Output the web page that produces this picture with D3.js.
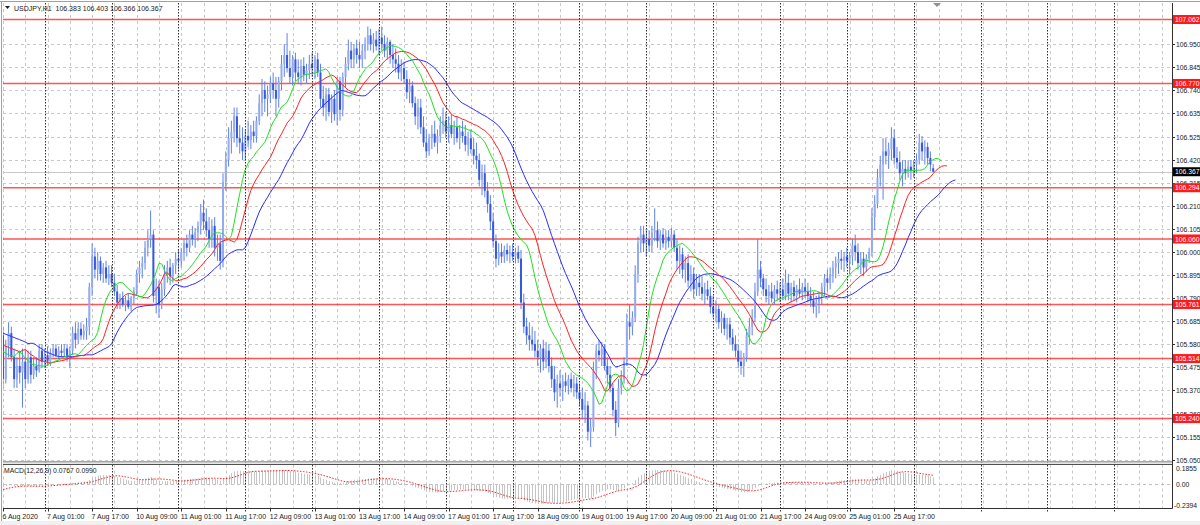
<!DOCTYPE html>
<html><head><meta charset="utf-8">
<script src="https://cdn.jsdelivr.net/npm/d3@7"></script>
<style>html,body{margin:0;padding:0;background:#fff}svg{display:block}</style>
</head><body>
<svg id="c" width="1200" height="525"></svg>
<script>
// ---------------- DATA ----------------
const chartTitle = "USDJPY,H1  106.383 106.403 106.366 106.367";
const macdTitle = "MACD(12,26,9) 0.0767 0.0990";

// H1 bars, 6 Aug 2020 09:00 -> 26 Aug 2020 07:00
const barOpen = [
 105.62,105.42,105.57,105.63,105.52,105.42,105.48,105.45,105.50,105.42,105.52,105.44,105.48,105.46,105.55, // 6 Aug
 105.50,105.53,105.50,105.54,105.56,105.53,105.55,105.54,105.56,105.52,105.55,105.63,105.60,105.65,105.62,105.64,105.66,105.84,105.98,105.92,105.96,105.90,105.93,105.88, // 7 Aug
 105.90,105.86,105.82,105.77,105.79,105.76,105.78,105.75,105.79,105.82,105.90,105.93,105.95,106.02,106.06,106.08,105.80,105.84,105.76,105.83,105.90,105.93,105.89,105.94, // 10 Aug
 105.97,105.96,106.00,106.04,106.02,106.08,106.06,106.09,106.12,106.18,106.14,106.10,106.06,106.12,106.02,106.04,105.96,106.32,106.42,106.52,106.55,106.62,106.52,106.50, // 11 Aug
 106.46,106.53,106.51,106.55,106.53,106.60,106.68,106.74,106.70,106.72,106.77,106.74,106.70,106.78,106.86,106.90,106.84,106.80,106.88,106.82,106.80,106.85,106.81,106.83, // 12 Aug
 106.86,106.84,106.88,106.82,106.70,106.66,106.72,106.64,106.70,106.63,106.78,106.65,106.80,106.86,106.92,106.88,106.93,106.90,106.88,106.92,106.95,106.99,106.95,106.97, // 13 Aug
 106.94,106.98,106.95,106.92,106.96,106.90,106.88,106.86,106.82,106.84,106.79,106.73,106.76,106.68,106.62,106.66,106.57,106.50,106.46,106.52,106.54,106.50,106.53,106.58, // 14 Aug
 106.60,106.55,106.58,106.54,106.57,106.52,106.55,106.53,106.49,106.52,106.47,106.44,106.42,106.33,106.36,106.28,106.22,106.14,106.05,105.97,106.00,105.98,106.01,105.99, // 17 Aug
 106.00,105.98,106.00,105.97,105.77,105.66,105.62,105.60,105.58,105.55,105.52,105.56,105.50,105.55,105.48,105.42,105.36,105.40,105.38,105.41,105.39,105.42,105.38,105.40, // 18 Aug
 105.36,105.33,105.28,105.30,105.18,105.20,105.46,105.55,105.53,105.56,105.48,105.44,105.38,105.28,105.22,105.38,105.42,105.50,105.68,105.66,105.70,105.90,106.04,106.08, // 19 Aug
 106.04,106.06,106.03,106.09,106.10,106.05,106.08,106.04,106.07,106.05,106.08,106.02,105.96,105.99,105.92,105.95,105.87,105.90,105.83,105.86,105.84,105.81,105.83,105.80, // 20 Aug
 105.75,105.72,105.74,105.68,105.70,105.65,105.67,105.61,105.58,105.55,105.50,105.48,105.52,105.62,105.66,105.70,105.82,105.92,105.88,105.83,105.80,105.82,105.79,105.83, // 21 Aug
 105.81,105.83,105.80,105.86,105.81,105.84,105.80,105.83,105.81,105.84,105.82,105.80,105.78,105.75,105.77,105.80,105.84,105.88,105.86,105.90,105.93,105.95,105.97,105.96, // 24 Aug
 105.98,105.96,105.98,106.03,106.00,105.95,105.97,105.93,105.97,106.00,106.16,106.22,106.34,106.40,106.46,106.44,106.47,106.52,106.43,106.41,106.36,106.38,106.36,106.39, // 25 Aug
 106.37,106.40,106.42,106.50,106.46,106.48,106.43,106.383 // 26 Aug
];
const barHigh = [
 105.66,105.60,105.68,105.66,105.56,105.52,105.55,105.56,105.56,105.55,105.55,105.52,105.52,105.58,105.58,
 105.56,105.57,105.56,105.58,105.58,105.57,105.58,105.58,105.58,105.57,105.66,105.68,105.68,105.68,105.67,105.70,105.86,106.04,106.02,106.00,105.98,105.95,105.96,105.94,
 105.94,105.90,105.85,105.81,105.82,105.80,105.81,105.80,105.84,105.92,105.96,105.98,106.05,106.10,106.19,106.10,105.88,105.87,105.86,105.94,105.96,105.97,105.95,106.00,
 106.01,106.02,106.06,106.08,106.10,106.12,106.11,106.14,106.22,106.24,106.20,106.16,106.15,106.16,106.08,106.08,106.36,106.46,106.57,106.60,106.66,106.66,106.58,106.57,
 106.56,106.60,106.58,106.60,106.62,106.72,106.79,106.78,106.76,106.80,106.82,106.80,106.80,106.90,106.95,107.00,106.92,106.90,106.91,106.88,106.88,106.89,106.86,106.90,
 106.91,106.90,106.91,106.86,106.76,106.75,106.75,106.72,106.74,106.80,106.80,106.82,106.89,106.97,106.96,106.95,106.97,106.96,106.95,106.98,107.03,107.02,107.00,107.01,
 107.02,107.03,106.99,106.98,106.97,106.95,106.93,106.90,106.88,106.87,106.83,106.79,106.78,106.71,106.70,106.70,106.62,106.56,106.54,106.58,106.60,106.56,106.62,106.66,
 106.64,106.62,106.63,106.60,106.62,106.58,106.60,106.58,106.55,106.56,106.52,106.50,106.45,106.40,106.40,106.32,106.26,106.18,106.08,106.04,106.04,106.03,106.04,106.03,
 106.04,106.02,106.03,106.01,105.81,105.70,105.68,105.66,105.64,105.60,105.58,105.60,105.59,105.58,105.52,105.48,105.44,105.46,105.44,105.45,105.44,105.45,105.44,105.43,
 105.40,105.38,105.36,105.32,105.24,105.50,105.58,105.60,105.59,105.58,105.52,105.48,105.40,105.32,105.42,105.46,105.52,105.72,105.76,105.73,105.94,106.07,106.12,106.12,
 106.10,106.10,106.12,106.20,106.14,106.10,106.11,106.10,106.10,106.11,106.10,106.06,106.03,106.02,105.98,105.99,105.94,105.93,105.90,105.90,105.89,105.86,105.87,105.84,
 105.80,105.78,105.76,105.73,105.72,105.70,105.70,105.65,105.62,105.58,105.55,105.54,105.65,105.70,105.74,105.86,106.06,105.96,105.90,105.88,105.85,105.86,105.85,105.87,
 105.86,105.88,105.92,105.90,105.86,105.87,105.85,105.88,105.86,105.88,105.86,105.84,105.82,105.80,105.82,105.86,105.90,105.92,105.93,105.96,105.98,106.00,106.01,106.00,
 106.02,106.00,106.06,106.08,106.04,106.00,106.00,105.99,106.02,106.20,106.26,106.38,106.44,106.52,106.52,106.50,106.57,106.56,106.48,106.46,106.42,106.42,106.42,106.42,
 106.42,106.45,106.54,106.53,106.51,106.50,106.46,106.403
];
const barLow = [
 105.38,105.40,105.52,105.50,105.38,105.38,105.40,105.29,105.38,105.40,105.40,105.42,105.43,105.45,105.47,
 105.47,105.48,105.48,105.52,105.52,105.51,105.52,105.52,105.50,105.47,105.53,105.56,105.58,105.60,105.60,105.60,105.62,105.80,105.88,105.87,105.87,105.86,105.86,105.85,
 105.84,105.80,105.74,105.74,105.75,105.73,105.74,105.73,105.76,105.80,105.86,105.88,105.92,105.98,106.02,105.77,105.72,105.70,105.74,105.80,105.86,105.85,105.86,105.90,
 105.92,105.93,105.96,105.98,106.00,106.03,106.02,106.05,106.08,106.10,106.07,106.02,106.02,105.98,105.96,105.92,105.93,106.28,106.39,106.45,106.50,106.48,106.45,106.42,
 106.42,106.48,106.47,106.50,106.50,106.58,106.62,106.64,106.62,106.68,106.70,106.62,106.66,106.74,106.80,106.82,106.77,106.76,106.78,106.77,106.76,106.78,106.77,106.79,
 106.80,106.79,106.80,106.66,106.62,106.60,106.62,106.59,106.60,106.58,106.60,106.62,106.75,106.83,106.84,106.84,106.86,106.84,106.84,106.88,106.92,106.92,106.91,106.92,
 106.90,106.92,106.89,106.88,106.86,106.84,106.82,106.79,106.78,106.77,106.70,106.68,106.66,106.58,106.56,106.54,106.48,106.43,106.44,106.47,106.48,106.45,106.50,106.54,
 106.52,106.50,106.52,106.49,106.50,106.47,106.50,106.46,106.44,106.45,106.40,106.38,106.30,106.26,106.25,106.18,106.10,106.02,105.93,105.94,105.95,105.95,105.96,105.95,
 105.96,105.95,105.95,105.74,105.63,105.58,105.55,105.55,105.52,105.48,105.45,105.46,105.47,105.45,105.38,105.32,105.29,105.34,105.32,105.36,105.35,105.36,105.34,105.33,
 105.30,105.24,105.22,105.14,105.11,105.18,105.42,105.50,105.48,105.46,105.40,105.36,105.25,105.16,105.20,105.35,105.40,105.48,105.60,105.62,105.68,105.86,106.00,106.00,
 105.98,106.00,106.00,106.05,106.02,106.01,106.02,106.01,106.02,106.02,106.00,105.92,105.90,105.88,105.86,105.84,105.82,105.79,105.80,105.80,105.78,105.76,105.78,105.72,
 105.70,105.68,105.65,105.63,105.62,105.60,105.58,105.55,105.52,105.47,105.44,105.43,105.50,105.58,105.62,105.68,105.80,105.84,105.80,105.77,105.76,105.77,105.76,105.78,
 105.77,105.78,105.78,105.78,105.77,105.78,105.77,105.79,105.78,105.79,105.77,105.75,105.72,105.70,105.72,105.76,105.80,105.82,105.83,105.86,105.88,105.90,105.92,105.91,
 105.93,105.90,105.94,105.96,105.92,105.90,105.89,105.91,105.95,105.98,106.10,106.20,106.30,106.24,106.40,106.38,106.42,106.40,106.38,106.33,106.30,106.33,106.34,106.33,
 106.34,106.36,106.40,106.42,106.40,106.40,106.37,106.366
];
const barClose = [
 105.42,105.57,105.63,105.52,105.42,105.48,105.45,105.50,105.42,105.52,105.44,105.48,105.46,105.55,105.50,
 105.53,105.50,105.54,105.56,105.53,105.55,105.54,105.56,105.52,105.55,105.63,105.60,105.65,105.62,105.64,105.66,105.84,105.98,105.92,105.96,105.90,105.93,105.88,105.90,
 105.86,105.82,105.77,105.79,105.76,105.78,105.75,105.79,105.82,105.90,105.93,105.95,106.02,106.06,106.08,105.80,105.84,105.76,105.83,105.90,105.93,105.89,105.94,105.97,
 105.96,106.00,106.04,106.02,106.08,106.06,106.09,106.12,106.18,106.14,106.10,106.06,106.12,106.02,106.04,105.96,106.32,106.42,106.52,106.55,106.62,106.52,106.50,106.46,
 106.53,106.51,106.55,106.53,106.60,106.68,106.74,106.70,106.72,106.77,106.74,106.70,106.78,106.86,106.90,106.84,106.80,106.88,106.82,106.80,106.85,106.81,106.83,106.86,
 106.84,106.88,106.82,106.70,106.66,106.72,106.64,106.70,106.63,106.78,106.65,106.80,106.86,106.92,106.88,106.93,106.90,106.88,106.92,106.95,106.99,106.95,106.97,106.94,
 106.98,106.95,106.92,106.96,106.90,106.88,106.86,106.82,106.84,106.79,106.73,106.76,106.68,106.62,106.66,106.57,106.50,106.46,106.52,106.54,106.50,106.53,106.58,106.60,
 106.55,106.58,106.54,106.57,106.52,106.55,106.53,106.49,106.52,106.47,106.44,106.42,106.33,106.36,106.28,106.22,106.14,106.05,105.97,106.00,105.98,106.01,105.99,106.00,
 105.98,106.00,105.97,105.77,105.66,105.62,105.60,105.58,105.55,105.52,105.56,105.50,105.55,105.48,105.42,105.36,105.40,105.38,105.41,105.39,105.42,105.38,105.40,105.36,
 105.33,105.28,105.30,105.18,105.20,105.46,105.55,105.53,105.56,105.48,105.44,105.38,105.28,105.22,105.38,105.42,105.50,105.68,105.66,105.70,105.90,106.04,106.08,106.04,
 106.06,106.03,106.09,106.10,106.05,106.08,106.04,106.07,106.05,106.08,106.02,105.96,105.99,105.92,105.95,105.87,105.90,105.83,105.86,105.84,105.81,105.83,105.80,105.75,
 105.72,105.74,105.68,105.70,105.65,105.67,105.61,105.58,105.55,105.50,105.48,105.52,105.62,105.66,105.70,105.82,105.92,105.88,105.83,105.80,105.82,105.79,105.83,105.81,
 105.83,105.80,105.86,105.81,105.84,105.80,105.83,105.81,105.84,105.82,105.80,105.78,105.75,105.77,105.80,105.84,105.88,105.86,105.90,105.93,105.95,105.97,105.96,105.98,
 105.96,105.98,106.03,106.00,105.95,105.97,105.93,105.97,106.00,106.16,106.22,106.34,106.40,106.46,106.44,106.47,106.52,106.43,106.41,106.36,106.38,106.36,106.39,106.37,
 106.40,106.42,106.50,106.46,106.48,106.43,106.40,106.367
];

// Alligator values already on screen before the first bar's own value
const jawLead   = [105.63,105.625,105.62,105.615,105.61,105.605,105.60,105.595];
const teethLead = [105.575,105.57,105.565,105.56,105.555];
const lipsLead  = [105.545,105.54,105.53];
// MACD warm-up state before the first visible bar
const ema12Seed = 105.53, ema26Seed = 105.55;
const macdPrior = [-0.09,-0.085,-0.08,-0.07,-0.06,-0.05,-0.045,-0.04];

const priceTicks = [106.950,106.845,106.740,106.635,106.525,106.420,106.315,106.210,106.105,106.000,105.895,105.790,105.685,105.580,105.475,105.370,105.260,105.155,105.050];
const levelPrices = [107.062,106.770,106.294,106.060,105.761,105.514,105.240];
const lastPrice = 106.367;
const macdTicks = [0.1855, 0.00, -0.2394];
const timeLabels = ["6 Aug 2020","7 Aug 01:00","7 Aug 17:00","10 Aug 09:00","11 Aug 01:00","11 Aug 17:00","12 Aug 09:00","13 Aug 01:00","13 Aug 17:00","14 Aug 09:00","17 Aug 01:00","17 Aug 17:00","18 Aug 09:00","19 Aug 01:00","19 Aug 17:00","20 Aug 09:00","21 Aug 01:00","21 Aug 17:00","24 Aug 09:00","25 Aug 01:00","25 Aug 17:00"];
const timeLabelBars = [0,16,32,48,64,80,96,112,128,144,160,176,192,208,224,240,256,272,288,304,320];
const firstDayStartBar = 15; // 7 Aug 00:00

// ---------------- LAYOUT ----------------
const svg = d3.select("#c");
const L = 3, R = 1172, pTop = 3, pBot = 461.5, mTop = 464.5, mBot = 508.5;
const N = barClose.length;
const barStep = 2.785;
const x = d3.scaleLinear().domain([0, N - 1]).range([3, 3 + (N - 1) * barStep]);
const y = d3.scaleLinear().domain([105.050, 107.062]).range([460.2, 19.5]);
const my = d3.scaleLinear().domain([-0.2394, 0.1855]).range([505.3, 468.0]);
const FONT = "Liberation Sans, Arial, sans-serif";

// frame
svg.append("rect").attr("x",0).attr("y",0).attr("width",1200).attr("height",525).attr("fill","#ffffff");
svg.append("rect").attr("x",0).attr("y",521).attr("width",1200).attr("height",4).attr("fill","#f0f0f0");
svg.append("line").attr("x1",0).attr("x2",1200).attr("y1",1.5).attr("y2",1.5).attr("stroke","#a0a0a0");
svg.append("line").attr("x1",1.5).attr("x2",1.5).attr("y1",1).attr("y2",521).attr("stroke","#a0a0a0");

const defs = svg.append("defs");
defs.append("clipPath").attr("id","cp").append("rect").attr("x",L).attr("y",pTop).attr("width",R-L).attr("height",pBot-pTop);
defs.append("clipPath").attr("id","cm").append("rect").attr("x",L).attr("y",mTop).attr("width",R-L).attr("height",mBot-mTop);

const gP = svg.append("g").attr("clip-path","url(#cp)");
const gM = svg.append("g").attr("clip-path","url(#cm)");

// vertical grid (every 8 bars) and day separators, extending into empty right area
const maxBar = Math.floor((R - 3) / barStep);
const gridBars = d3.range(0, maxBar + 1, 8);
const sepBars = d3.range(firstDayStartBar, maxBar + 1, 24);
[gP, gM].forEach((g, k) => {
  const y1 = k ? mTop : pTop, y2 = k ? mBot : pBot;
  g.selectAll(null).data(gridBars).join("line")
    .attr("x1", d => Math.round(x(d)) + 0.5).attr("x2", d => Math.round(x(d)) + 0.5)
    .attr("y1", y1).attr("y2", y2).attr("stroke", "#c8c8c8").attr("stroke-dasharray", "3,3");
});
svg.selectAll(null).data(sepBars).join("line")
  .attr("x1", d => Math.round(x(d)) + 0.5).attr("x2", d => Math.round(x(d)) + 0.5)
  .attr("y1", pTop).attr("y2", 512).attr("stroke", "#303030").attr("stroke-dasharray", "1.5,1.5");

// horizontal grid
gP.selectAll(null).data(priceTicks).join("line")
  .attr("x1", L).attr("x2", R).attr("y1", d => Math.round(y(d)) + 0.5).attr("y2", d => Math.round(y(d)) + 0.5)
  .attr("stroke", "#c8c8c8").attr("stroke-dasharray", "3,3");
gM.append("line").attr("x1", L).attr("x2", R).attr("y1", Math.round(my(0)) + 0.5).attr("y2", Math.round(my(0)) + 0.5)
  .attr("stroke", "#c0c0c0").attr("stroke-dasharray", "3,3");

// current price line
gP.append("line").attr("x1", L).attr("x2", R).attr("y1", Math.round(y(lastPrice)) + 0.5).attr("y2", Math.round(y(lastPrice)) + 0.5)
  .attr("stroke", "#c8c8c8").attr("stroke-width", 1);

// horizontal levels
gP.selectAll(null).data(levelPrices).join("line")
  .attr("x1", L).attr("x2", R).attr("y1", d => y(d)).attr("y2", d => y(d))
  .attr("stroke", "#ff2a2a").attr("stroke-width", 1.5).attr("stroke-opacity", 0.8);

// candles
const idx = d3.range(N);
gP.selectAll(null).data(idx).join("line")
  .attr("x1", i => x(i)).attr("x2", i => x(i))
  .attr("y1", i => y(barHigh[i])).attr("y2", i => y(barLow[i]))
  .attr("stroke", "#5f82e8").attr("stroke-width", 1);
gP.selectAll(null).data(idx).join("rect")
  .attr("x", i => x(i) - 1).attr("width", 2)
  .attr("y", i => y(Math.max(barOpen[i], barClose[i])))
  .attr("height", i => Math.max(1, Math.abs(y(barOpen[i]) - y(barClose[i]))))
  .attr("fill", i => barClose[i] >= barOpen[i] ? "#95abee" : "#3558de");

// Alligator: SMMA of median price with forward shift
function alligator(n, shift, lead) {
  const pts = lead.map((v, j) => [j, v]);
  let s = lead[lead.length - 1];
  for (let i = 0; i < N; i++) {
    const med = (barHigh[i] + barLow[i]) / 2;
    s = (s * (n - 1) + med) / n;
    pts.push([i + shift, s]);
  }
  return pts;
}
const lineGen = d3.line().x(d => x(d[0])).y(d => y(d[1]));
[[13, 8, jawLead, "#2a2aff"], [8, 5, teethLead, "#ff2020"], [5, 3, lipsLead, "#1fe01f"]].forEach(([n, sh, lead, col]) => {
  gP.append("path").attr("d", lineGen(alligator(n, sh, lead))).attr("fill", "none")
    .attr("stroke", col).attr("stroke-width", 1);
});

// MACD(12,26,9)
const macd = [], signal = [];
let e12 = ema12Seed, e26 = ema26Seed;
const a12 = 2 / 13, a26 = 2 / 27;
const hist = macdPrior.slice();
for (let i = 0; i < N; i++) {
  e12 = a12 * barClose[i] + (1 - a12) * e12;
  e26 = a26 * barClose[i] + (1 - a26) * e26;
  const m = e12 - e26;
  macd.push(m); hist.push(m);
  signal.push(d3.mean(hist.slice(hist.length - 9)));
}
gM.selectAll(null).data(idx).join("line")
  .attr("x1", i => Math.round(x(i)) + 0.5).attr("x2", i => Math.round(x(i)) + 0.5)
  .attr("y1", my(0)).attr("y2", i => my(macd[i]))
  .attr("stroke", "#c4c4c4").attr("stroke-width", 1);
gM.append("path").attr("d", d3.line().x((d, i) => x(i)).y(d => my(d))(signal))
  .attr("fill", "none").attr("stroke", "#ff2020").attr("stroke-width", 1).attr("stroke-dasharray", "1.5,1.5");

// panel borders
svg.append("line").attr("x1", L).attr("x2", R).attr("y1", pBot + 0.5).attr("y2", pBot + 0.5).attr("stroke", "#505050");
svg.append("rect").attr("x", L).attr("y", pBot + 1).attr("width", R - L).attr("height", mTop - pBot - 1.5).attr("fill", "#e8e8e8");
svg.append("line").attr("x1", L).attr("x2", R).attr("y1", mTop).attr("y2", mTop).attr("stroke", "#505050");
svg.append("line").attr("x1", L).attr("x2", R + 0.5).attr("y1", mBot).attr("y2", mBot).attr("stroke", "#303030");
svg.append("line").attr("x1", R + 0.5).attr("x2", R + 0.5).attr("y1", pTop).attr("y2", mBot).attr("stroke", "#303030");

// price axis ticks & labels
svg.selectAll(null).data(priceTicks).join("line")
  .attr("x1", R).attr("x2", R + 3).attr("y1", d => Math.round(y(d)) + 0.5).attr("y2", d => Math.round(y(d)) + 0.5).attr("stroke", "#303030");
svg.selectAll(null).data(priceTicks).join("text")
  .attr("x", 1176).attr("y", d => y(d) + 2.5).text(d => d.toFixed(3))
  .attr("font-family", FONT).attr("font-size", 6.8).attr("fill", "#202020");

// level labels
const lv = svg.selectAll(null).data(levelPrices).join("g");
lv.append("rect").attr("x", 1173).attr("y", d => y(d) - 4.5).attr("width", 27).attr("height", 9).attr("fill", "#ff1a1a");
lv.append("text").attr("x", 1175).attr("y", d => y(d) + 2.6).text(d => d.toFixed(3))
  .attr("font-family", FONT).attr("font-size", 6.8).attr("fill", "#ffffff");
svg.append("rect").attr("x", 1173).attr("y", y(lastPrice) - 4.5).attr("width", 27).attr("height", 9).attr("fill", "#000000");
svg.append("text").attr("x", 1175).attr("y", y(lastPrice) + 2.6).text(lastPrice.toFixed(3))
  .attr("font-family", FONT).attr("font-size", 6.8).attr("fill", "#ffffff");

// MACD axis labels
svg.selectAll(null).data(macdTicks).join("text")
  .attr("x", d => d < 0 ? 1174 : 1176).attr("y", d => my(d) + 2.5)
  .text(d => d === 0 ? "0.00" : d.toFixed(4))
  .attr("font-family", FONT).attr("font-size", 6.8).attr("fill", "#202020");

// time axis
svg.selectAll(null).data(timeLabelBars).join("line")
  .attr("x1", d => Math.round(x(d)) + 0.5).attr("x2", d => Math.round(x(d)) + 0.5)
  .attr("y1", mBot).attr("y2", mBot + 3).attr("stroke", "#303030");
svg.selectAll(null).data(timeLabelBars).join("text")
  .attr("x", d => x(d) - 0.5).attr("y", 518.5).text((d, i) => timeLabels[i])
  .attr("font-family", FONT).attr("font-size", 7).attr("fill", "#202020");

// titles
svg.append("path").attr("d", "M5,6 L10,6 L7.5,9 Z").attr("fill", "#202020");
svg.append("text").attr("x", 14).attr("y", 10.5).text(chartTitle).attr("xml:space","preserve").style("white-space","pre")
  .attr("font-family", FONT).attr("font-size", 7).attr("fill", "#202020");
svg.append("text").attr("x", 4).attr("y", 472.5).text(macdTitle)
  .attr("font-family", FONT).attr("font-size", 6.8).attr("fill", "#202020");
// chart-shift marker
svg.append("path").attr("d", "M933,3 L941,3 L937,7 Z").attr("fill", "#909090");
</script>
</body></html>
